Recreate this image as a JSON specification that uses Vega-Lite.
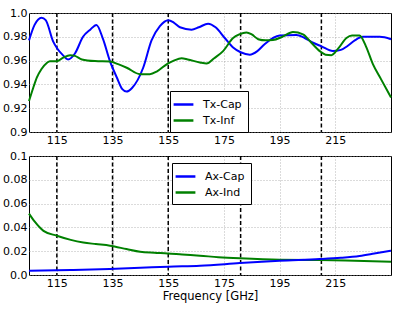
{
  "$schema": "https://vega.github.io/schema/vega-lite/v6.json",
  "padding": {"left": 2, "top": 6, "right": 8, "bottom": 4},
  "spacing": 24,
  "bounds": "flush",
  "datasets": {
    "vlines": [{"f": 115}, {"f": 135}, {"f": 155}, {"f": 181}, {"f": 210}],
    "tx": [
      {"f": 105, "v": 0.977, "s": "Tx-Cap"}, {"f": 107, "v": 0.990, "s": "Tx-Cap"}, {"f": 109.5, "v": 0.996, "s": "Tx-Cap"}, {"f": 111, "v": 0.994, "s": "Tx-Cap"},
      {"f": 113.7, "v": 0.976, "s": "Tx-Cap"}, {"f": 115.2, "v": 0.970, "s": "Tx-Cap"}, {"f": 117, "v": 0.965, "s": "Tx-Cap"}, {"f": 119, "v": 0.961, "s": "Tx-Cap"},
      {"f": 121.5, "v": 0.966, "s": "Tx-Cap"}, {"f": 124.4, "v": 0.980, "s": "Tx-Cap"}, {"f": 127, "v": 0.986, "s": "Tx-Cap"}, {"f": 129.2, "v": 0.990, "s": "Tx-Cap"},
      {"f": 131.6, "v": 0.978, "s": "Tx-Cap"}, {"f": 134, "v": 0.960, "s": "Tx-Cap"}, {"f": 136.5, "v": 0.946, "s": "Tx-Cap"}, {"f": 138.5, "v": 0.936, "s": "Tx-Cap"},
      {"f": 140, "v": 0.934, "s": "Tx-Cap"}, {"f": 142, "v": 0.937, "s": "Tx-Cap"}, {"f": 146, "v": 0.954, "s": "Tx-Cap"}, {"f": 149, "v": 0.977, "s": "Tx-Cap"},
      {"f": 152, "v": 0.989, "s": "Tx-Cap"}, {"f": 155, "v": 0.994, "s": "Tx-Cap"}, {"f": 157, "v": 0.992, "s": "Tx-Cap"}, {"f": 159.2, "v": 0.988, "s": "Tx-Cap"},
      {"f": 163.4, "v": 0.986, "s": "Tx-Cap"}, {"f": 166, "v": 0.988, "s": "Tx-Cap"}, {"f": 169.3, "v": 0.991, "s": "Tx-Cap"}, {"f": 172, "v": 0.988, "s": "Tx-Cap"},
      {"f": 175.3, "v": 0.979, "s": "Tx-Cap"}, {"f": 178.3, "v": 0.971, "s": "Tx-Cap"}, {"f": 181, "v": 0.967, "s": "Tx-Cap"}, {"f": 184.3, "v": 0.965, "s": "Tx-Cap"},
      {"f": 187, "v": 0.968, "s": "Tx-Cap"}, {"f": 189.7, "v": 0.974, "s": "Tx-Cap"}, {"f": 195, "v": 0.981, "s": "Tx-Cap"}, {"f": 201, "v": 0.9815, "s": "Tx-Cap"},
      {"f": 204, "v": 0.979, "s": "Tx-Cap"}, {"f": 207, "v": 0.975, "s": "Tx-Cap"}, {"f": 210, "v": 0.972, "s": "Tx-Cap"}, {"f": 214.1, "v": 0.968, "s": "Tx-Cap"},
      {"f": 217, "v": 0.969, "s": "Tx-Cap"}, {"f": 219.5, "v": 0.9725, "s": "Tx-Cap"}, {"f": 222, "v": 0.977, "s": "Tx-Cap"}, {"f": 224.9, "v": 0.980, "s": "Tx-Cap"},
      {"f": 228, "v": 0.980, "s": "Tx-Cap"}, {"f": 231, "v": 0.980, "s": "Tx-Cap"}, {"f": 235, "v": 0.978, "s": "Tx-Cap"},
      {"f": 105, "v": 0.926, "s": "Tx-Inf"}, {"f": 106.5, "v": 0.937, "s": "Tx-Inf"}, {"f": 107.8, "v": 0.9457, "s": "Tx-Inf"}, {"f": 109.5, "v": 0.953, "s": "Tx-Inf"},
      {"f": 111.4, "v": 0.958, "s": "Tx-Inf"}, {"f": 112.5, "v": 0.9595, "s": "Tx-Inf"}, {"f": 114, "v": 0.9595, "s": "Tx-Inf"}, {"f": 115, "v": 0.9595, "s": "Tx-Inf"},
      {"f": 117, "v": 0.962, "s": "Tx-Inf"}, {"f": 119.8, "v": 0.9646, "s": "Tx-Inf"}, {"f": 121.5, "v": 0.964, "s": "Tx-Inf"}, {"f": 124, "v": 0.961, "s": "Tx-Inf"},
      {"f": 128.7, "v": 0.9596, "s": "Tx-Inf"}, {"f": 134.1, "v": 0.9592, "s": "Tx-Inf"}, {"f": 137, "v": 0.957, "s": "Tx-Inf"}, {"f": 140.1, "v": 0.954, "s": "Tx-Inf"},
      {"f": 144.9, "v": 0.9486, "s": "Tx-Inf"}, {"f": 148.4, "v": 0.9486, "s": "Tx-Inf"}, {"f": 151, "v": 0.951, "s": "Tx-Inf"}, {"f": 154.8, "v": 0.9575, "s": "Tx-Inf"},
      {"f": 157, "v": 0.960, "s": "Tx-Inf"}, {"f": 159.8, "v": 0.962, "s": "Tx-Inf"}, {"f": 162, "v": 0.961, "s": "Tx-Inf"}, {"f": 166.4, "v": 0.9584, "s": "Tx-Inf"},
      {"f": 168.8, "v": 0.9575, "s": "Tx-Inf"}, {"f": 171.5, "v": 0.962, "s": "Tx-Inf"}, {"f": 174.7, "v": 0.968, "s": "Tx-Inf"}, {"f": 178.3, "v": 0.979, "s": "Tx-Inf"},
      {"f": 180.5, "v": 0.982, "s": "Tx-Inf"}, {"f": 183.1, "v": 0.9837, "s": "Tx-Inf"}, {"f": 185, "v": 0.982, "s": "Tx-Inf"}, {"f": 187.3, "v": 0.978, "s": "Tx-Inf"},
      {"f": 190, "v": 0.977, "s": "Tx-Inf"}, {"f": 192.6, "v": 0.9773, "s": "Tx-Inf"}, {"f": 196, "v": 0.980, "s": "Tx-Inf"}, {"f": 199.8, "v": 0.984, "s": "Tx-Inf"},
      {"f": 203.4, "v": 0.982, "s": "Tx-Inf"}, {"f": 206, "v": 0.976, "s": "Tx-Inf"}, {"f": 209.4, "v": 0.968, "s": "Tx-Inf"}, {"f": 211.5, "v": 0.965, "s": "Tx-Inf"},
      {"f": 213.6, "v": 0.9646, "s": "Tx-Inf"}, {"f": 216, "v": 0.970, "s": "Tx-Inf"}, {"f": 219, "v": 0.979, "s": "Tx-Inf"}, {"f": 221, "v": 0.981, "s": "Tx-Inf"},
      {"f": 223.7, "v": 0.981, "s": "Tx-Inf"}, {"f": 226, "v": 0.972, "s": "Tx-Inf"}, {"f": 228.5, "v": 0.957, "s": "Tx-Inf"}, {"f": 231.5, "v": 0.944, "s": "Tx-Inf"},
      {"f": 235, "v": 0.929, "s": "Tx-Inf"}
    ],
    "ax": [
      {"f": 105, "v": 0.0516, "s": "Ax-Ind"}, {"f": 107, "v": 0.045, "s": "Ax-Ind"}, {"f": 110.2, "v": 0.0371, "s": "Ax-Ind"}, {"f": 115, "v": 0.033, "s": "Ax-Ind"},
      {"f": 120, "v": 0.0295, "s": "Ax-Ind"}, {"f": 124.5, "v": 0.0273, "s": "Ax-Ind"}, {"f": 129, "v": 0.026, "s": "Ax-Ind"}, {"f": 134.1, "v": 0.0246, "s": "Ax-Ind"},
      {"f": 140, "v": 0.0218, "s": "Ax-Ind"}, {"f": 144.9, "v": 0.0195, "s": "Ax-Ind"}, {"f": 150, "v": 0.0187, "s": "Ax-Ind"}, {"f": 154.8, "v": 0.0181, "s": "Ax-Ind"},
      {"f": 160, "v": 0.0172, "s": "Ax-Ind"}, {"f": 166.4, "v": 0.0162, "s": "Ax-Ind"}, {"f": 173, "v": 0.015, "s": "Ax-Ind"}, {"f": 180.7, "v": 0.014, "s": "Ax-Ind"},
      {"f": 195, "v": 0.0128, "s": "Ax-Ind"}, {"f": 209.4, "v": 0.0126, "s": "Ax-Ind"}, {"f": 222, "v": 0.012, "s": "Ax-Ind"}, {"f": 235, "v": 0.0112, "s": "Ax-Ind"},
      {"f": 105, "v": 0.0036, "s": "Ax-Cap"}, {"f": 120, "v": 0.0042, "s": "Ax-Cap"}, {"f": 134, "v": 0.005, "s": "Ax-Cap"}, {"f": 145, "v": 0.006, "s": "Ax-Cap"},
      {"f": 155, "v": 0.007, "s": "Ax-Cap"}, {"f": 166.4, "v": 0.0078, "s": "Ax-Cap"}, {"f": 180.7, "v": 0.010, "s": "Ax-Cap"}, {"f": 195, "v": 0.012, "s": "Ax-Cap"},
      {"f": 209.4, "v": 0.0134, "s": "Ax-Cap"}, {"f": 217, "v": 0.0145, "s": "Ax-Cap"}, {"f": 223.7, "v": 0.016, "s": "Ax-Cap"}, {"f": 229, "v": 0.018, "s": "Ax-Cap"},
      {"f": 235, "v": 0.0204, "s": "Ax-Cap"}
    ]
  },
  "vconcat": [
    {
      "width": 362, "height": 119,
      "layer": [
        {
          "data": {"name": "vlines"},
          "mark": {"type": "rule", "strokeDash": [4, 2.5], "color": "black", "strokeWidth": 1.5},
          "encoding": {"x": {"field": "f", "type": "quantitative", "scale": {"domain": [105, 235], "nice": false}, "axis": {"title": null, "values": [115, 135, 155, 175, 195, 215]}}}
        },
        {
          "data": {"name": "tx"},
          "mark": {"type": "line", "strokeWidth": 2, "interpolate": "monotone"},
          "encoding": {
            "x": {"field": "f", "type": "quantitative", "scale": {"domain": [105, 235], "nice": false}, "axis": {"title": null, "values": [115, 135, 155, 175, 195, 215]}},
            "y": {"field": "v", "type": "quantitative", "scale": {"domain": [0.9, 1.0], "nice": false, "zero": false}, "axis": {"title": null, "values": [0.9, 0.92, 0.94, 0.96, 0.98, 1.0], "labelExpr": "datum.value == 1 ? '1.0' : format(datum.value, '.2~f')"}},
            "color": {"field": "s", "type": "nominal", "scale": {"domain": ["Tx-Cap", "Tx-Inf"], "range": ["#0000ff", "#008000"]}, "legend": {"title": null, "orient": "none", "legendX": 141, "legendY": 78}}
          }
        }
      ]
    },
    {
      "width": 362, "height": 119,
      "layer": [
        {
          "data": {"name": "vlines"},
          "mark": {"type": "rule", "strokeDash": [4, 2.5], "color": "black", "strokeWidth": 1.5},
          "encoding": {"x": {"field": "f", "type": "quantitative", "scale": {"domain": [105, 235], "nice": false}, "axis": {"title": "Frequency [GHz]", "values": [115, 135, 155, 175, 195, 215]}}}
        },
        {
          "data": {"name": "ax"},
          "mark": {"type": "line", "strokeWidth": 2, "interpolate": "monotone"},
          "encoding": {
            "x": {"field": "f", "type": "quantitative", "scale": {"domain": [105, 235], "nice": false}, "axis": {"title": "Frequency [GHz]", "values": [115, 135, 155, 175, 195, 215]}},
            "y": {"field": "v", "type": "quantitative", "scale": {"domain": [0, 0.1], "nice": false}, "axis": {"title": null, "values": [0, 0.02, 0.04, 0.06, 0.08, 0.1], "labelExpr": "datum.value == 0 ? '0.0' : format(datum.value, '.2~f')"}},
            "color": {"field": "s", "type": "nominal", "scale": {"domain": ["Ax-Cap", "Ax-Ind"], "range": ["#0000ff", "#008000"]}, "legend": {"title": null, "orient": "none", "legendX": 143, "legendY": 7}}
          }
        }
      ]
    }
  ],
  "resolve": {"scale": {"color": "independent", "y": "independent", "x": "independent"}},
  "config": {
    "font": "DejaVu Sans",
    "view": {"stroke": "black", "strokeWidth": 1},
    "axis": {
      "labelFont": "DejaVu Sans", "labelFontSize": 11, "labelColor": "black",
      "ticks": false, "labelPadding": 2, "domain": false,
      "gridColor": "#999999", "gridDash": [1, 2], "gridWidth": 0.7,
      "titleFont": "DejaVu Sans", "titleFontSize": 11.5, "titleFontWeight": "normal", "titleColor": "black", "titlePadding": 2
    },
    "legend": {
      "labelFont": "DejaVu Sans", "labelFontSize": 11, "labelColor": "black",
      "symbolType": "M-1.65,0H1.65", "symbolSize": 144, "symbolStrokeWidth": 2.5,
      "strokeColor": "black", "fillColor": "white", "padding": 6, "rowPadding": 3,
      "symbolOffset": 0, "labelOffset": 12, "cornerRadius": 0
    }
  }
}
